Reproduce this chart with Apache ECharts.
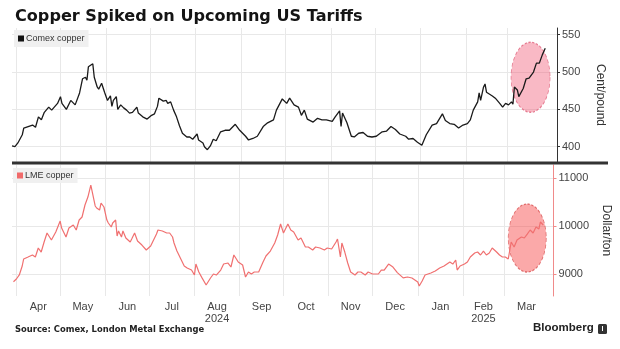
<!DOCTYPE html>
<html>
<head>
<meta charset="utf-8">
<script src="https://cdn.jsdelivr.net/npm/echarts@6.0.0/dist/echarts.min.js"></script>
<style>
  html, body { margin: 0; padding: 0; background: #fff; }
  #chart { width: 620px; height: 349px; }
</style>
</head>
<body>
<div id="chart"></div>
<script>
// ---------- DATA ----------
const startDate = '2024-03-29';
const endDate = '2025-04-04';

// days since startDate, Comex copper (cents/pound)
const comexDays = [0,2,4,7,8,11,14,16,18,20,
  22,25,27,31,33,34,37,40,43,46,
  48,50,51,52,55,56,58,59,61,63,
  65,67,68,69,71,72,74,76,78,80,
  82,85,86,89,92,95,97,99,100,103,
  105,106,108,110,112,114,116,119,121,123,
  126,127,130,131,133,135,137,139,142,145,
  148,152,155,159,161,164,167,171,174,178,
  180,184,187,189,192,195,197,199,201,205,
  208,211,214,218,220,223,224,225,228,231,
  233,236,239,242,245,248,252,255,258,261,
  264,268,270,273,276,279,282,286,289,293,
  295,298,301,304,307,310,312,314,317,318,
  319,321,322,323,327,329,332,334,336,338,
  340,341,342,344,345,348,350,352,355,357,
  359,361,363];
const comexValues = [401,400,405,416,425,427,429,426,440,436,
  446,453,449,458,467,458,450,462,456,472,
  491,493,489,507,511,493,480,477,485,473,
  462,468,454,462,467,450,456,452,449,445,
  446,453,445,440,437,442,444,454,465,461,
  462,458,460,449,440,428,418,413,413,410,
  417,409,405,400,396,401,410,408,420,422,
  422,430,422,414,409,411,414,427,432,436,
  449,464,458,465,456,453,442,449,437,433,
  438,436,436,434,440,448,427,445,432,414,
  413,418,419,414,413,414,420,421,427,423,
  417,414,410,411,406,402,416,429,431,444,
  435,431,430,425,429,431,436,449,460,472,
  462,480,484,473,468,465,458,453,458,456,
  460,457,480,476,467,478,491,492,500,512,
  512,523,532];

// days since startDate, LME copper (dollars/ton)
const lmeDays = [1,3,5,7,8,11,14,16,18,20,
  22,24,27,30,33,34,37,39,42,44,
  46,48,50,52,54,55,57,58,60,61,
  63,65,66,68,69,71,72,73,75,76,
  78,81,82,84,86,89,92,95,96,99,
  100,103,106,108,110,111,113,116,118,120,
  123,125,126,128,130,133,136,138,140,143,
  145,148,150,152,155,158,160,162,164,166,
  169,172,174,177,180,182,184,186,189,191,
  193,196,198,201,203,206,208,211,214,216,
  219,222,223,225,226,228,230,232,235,237,
  239,242,244,247,251,253,255,258,261,264,
  268,271,274,278,279,281,283,287,290,293,
  296,300,302,304,305,307,310,312,314,317,
  319,321,323,325,327,329,332,334,336,338,
  340,341,342,344,346,349,351,353,355,357,
  359,361,362,364];
const lmeValues = [8840,8896,8980,9167,9313,9354,9396,9354,9542,9458,
  9667,9854,9708,9875,10104,9958,9771,9958,10021,9917,
  10125,10188,10438,10604,10854,10875,10417,10375,10333,10479,
  10396,10125,10063,9979,10063,10125,9792,9896,9771,9896,
  9750,9667,9729,9854,9688,9604,9500,9583,9646,9833,
  9917,9896,9854,9854,9771,9646,9479,9292,9167,9125,
  9083,8979,9208,9042,8930,8771,8917,9000,8979,9083,
  9208,9229,9146,9396,9250,9188,8938,9042,9000,9042,
  9042,9250,9375,9479,9646,9813,10042,9854,10042,9917,
  9875,9708,9750,9563,9563,9500,9563,9542,9500,9542,
  9521,9667,9729,9354,9646,9458,9229,9042,8979,9042,
  9042,8979,9042,9000,9000,9083,9083,9208,9146,9030,
  8920,8938,8917,8833,8750,8854,8979,9021,9063,9125,
  9167,9250,9208,9292,9083,9167,9208,9250,9354,9438,
  9458,9396,9479,9396,9438,9542,9458,9396,9354,9354,
  9313,9354,9667,9563,9708,9771,9750,9833,9917,9854,
  9979,9938,10083,10021];

// month boundaries and axis tick labels
const monthStarts = ['2024-04-01','2024-05-01','2024-06-01','2024-07-01','2024-08-01','2024-09-01',
  '2024-10-01','2024-11-01','2024-12-01','2025-01-01','2025-02-01','2025-03-01','2025-04-01'];
const monthLabels = ['Apr','May','Jun','Jul','Aug','Sep','Oct','Nov','Dec','Jan','Feb','Mar'];
const yearLabels  = ['','','','','2024','','','','','','2025',''];
const comexTicks = [400, 450, 500, 550];
const lmeTicks = [9000, 10000, 11000];

// highlighted recent spike (ellipse centres)
const highlightDay = 353;
const highlightComex = 493;
const highlightLme = 9750;

// ---------- BUILD ----------
function ts(s) { const p = s.split('-').map(Number); return new Date(p[0], p[1] - 1, p[2]).getTime(); }
const DAY = 86400000;
const t0 = ts(startDate);
const toTime = d => t0 + d * DAY;

const comexData = comexDays.map((d, i) => [toTime(d), comexValues[i]]);
const lmeData = lmeDays.map((d, i) => [toTime(d), lmeValues[i]]);

const gridTicks = monthStarts.slice(0, 12).map(ts);
const labelPos = monthLabels.map((m, i) => (ts(monthStarts[i]) + ts(monthStarts[i + 1])) / 2);
function monthFormatter(val) {
  let best = 0, bd = Infinity;
  labelPos.forEach((p, i) => { const dd = Math.abs(p - val); if (dd < bd) { bd = dd; best = i; } });
  return monthLabels[best] + (yearLabels[best] ? '\n' + yearLabels[best] : '');
}
const plainNumber = v => String(Math.round(v));

const FONT = 'Liberation Sans';
const gridLine = { show: true, lineStyle: { color: '#e8e8e8', width: 1 } };

const xCommon = {
  type: 'value',
  min: t0,
  max: ts(endDate),
  axisLine: { show: false },
  axisTick: { show: false, customValues: gridTicks },
  splitLine: gridLine
};

const option = {
  animation: false,
  backgroundColor: '#fff',
  title: {
    text: 'Copper Spiked on Upcoming US Tariffs',
    left: 10, top: 4,
    textStyle: { fontFamily: 'DejaVu Sans', fontWeight: 'bold', fontSize: 16.1, color: '#141414' }
  },
  legend: [
    {
      data: ['Comex copper'], left: 14, top: 30, orient: 'horizontal',
      icon: 'rect', itemWidth: 6, itemHeight: 6, itemGap: 4,
      backgroundColor: '#f0f0f0', padding: [4, 4, 4, 4],
      textStyle: { fontFamily: FONT, fontSize: 9, color: '#333', padding: [0, 0, 0, -3] }
    },
    {
      data: ['LME copper'], left: 13, top: 168, orient: 'horizontal',
      icon: 'rect', itemWidth: 6, itemHeight: 6, itemGap: 4,
      backgroundColor: '#f0f0f0', padding: [3, 4, 3, 4],
      textStyle: { fontFamily: FONT, fontSize: 9, color: '#333', padding: [0, 0, 0, -3] }
    }
  ],
  grid: [
    { left: 12, right: 63, top: 28, height: 134 },
    { left: 12, right: 63, top: 165, height: 131 }
  ],
  xAxis: [
    Object.assign({ gridIndex: 0, axisLabel: { show: false } }, xCommon),
    Object.assign({ gridIndex: 1,
      axisLabel: {
        show: true, customValues: labelPos, formatter: monthFormatter,
        color: '#444', fontFamily: FONT, fontSize: 11, margin: 5, lineHeight: 12
      } }, xCommon)
  ],
  yAxis: [
    {
      gridIndex: 0, type: 'value', position: 'right', min: 379.5, max: 559,
      axisLine: { show: true, lineStyle: { color: '#333', width: 1 } },
      axisTick: { show: true, length: 3, customValues: comexTicks, lineStyle: { color: '#333' } },
      axisLabel: { customValues: comexTicks, formatter: plainNumber, margin: 5, color: '#444', fontFamily: FONT, fontSize: 11 },
      splitLine: gridLine,
      name: 'Cent/pound', nameLocation: 'middle', nameRotate: -90, nameGap: 37,
      nameTextStyle: { fontFamily: FONT, fontSize: 12, color: '#333' }
    },
    {
      gridIndex: 1, type: 'value', position: 'right', min: 8542, max: 11271,
      axisLine: { show: true, lineStyle: { color: '#f08a8a', width: 1 } },
      axisTick: { show: true, length: 3, customValues: lmeTicks, lineStyle: { color: '#f08a8a' } },
      axisLabel: { customValues: lmeTicks, formatter: plainNumber, margin: 5, color: '#444', fontFamily: FONT, fontSize: 11 },
      splitLine: gridLine,
      name: 'Dollar/ton', nameLocation: 'middle', nameRotate: -90, nameGap: 38,
      nameTextStyle: { fontFamily: FONT, fontSize: 12, color: '#333' }
    }
  ],
  series: [
    {
      name: 'Comex copper', type: 'line', xAxisIndex: 0, yAxisIndex: 0,
      data: comexData, showSymbol: false, symbol: 'none',
      lineStyle: { color: '#1a1a1a', width: 1.3 }, itemStyle: { color: '#111' }
    },
    {
      name: 'LME copper', type: 'line', xAxisIndex: 1, yAxisIndex: 1,
      data: lmeData, showSymbol: false, symbol: 'none',
      lineStyle: { color: '#f07070', width: 1.2 }, itemStyle: { color: '#f06a6a' }
    },
    {
      name: 'spike-top', type: 'scatter', xAxisIndex: 0, yAxisIndex: 0, silent: true,
      data: [[toTime(highlightDay), highlightComex]],
      symbol: 'circle', symbolSize: [39, 70],
      itemStyle: { color: 'rgba(240,80,110,0.5)', borderColor: '#e0607a', borderWidth: 1, borderType: [3, 2] }
    },
    {
      name: 'spike-bottom', type: 'scatter', xAxisIndex: 1, yAxisIndex: 1, silent: true,
      data: [[toTime(highlightDay), highlightLme]],
      symbol: 'circle', symbolSize: [38, 68],
      itemStyle: { color: 'rgba(245,60,60,0.55)', borderColor: '#d85050', borderWidth: 1, borderType: [3, 2] }
    }
  ],
  graphic: [
    { type: 'line', shape: { x1: 12, y1: 163, x2: 608, y2: 163 }, style: { stroke: '#333', lineWidth: 3 }, z: 100 },
    { type: 'text', left: 15, top: 326,
      style: { text: 'Source: Comex, London Metal Exchange', font: 'bold 8.4px "DejaVu Sans"', fill: '#222' } },
    { type: 'text', left: 533, top: 322,
      style: { text: 'Bloomberg', font: 'bold 11.5px "Liberation Sans"', fill: '#222' } },
    { type: 'rect', shape: { x: 598, y: 324, width: 9, height: 10, r: 1.5 }, style: { fill: '#333' } },
    { type: 'line', shape: { x1: 602.5, y1: 326, x2: 602.5, y2: 331 }, style: { stroke: '#fff', lineWidth: 1 } }
  ]
};

const chart = echarts.init(document.getElementById('chart'), null, { renderer: 'canvas' });
chart.setOption(option);
</script>
</body>
</html>
